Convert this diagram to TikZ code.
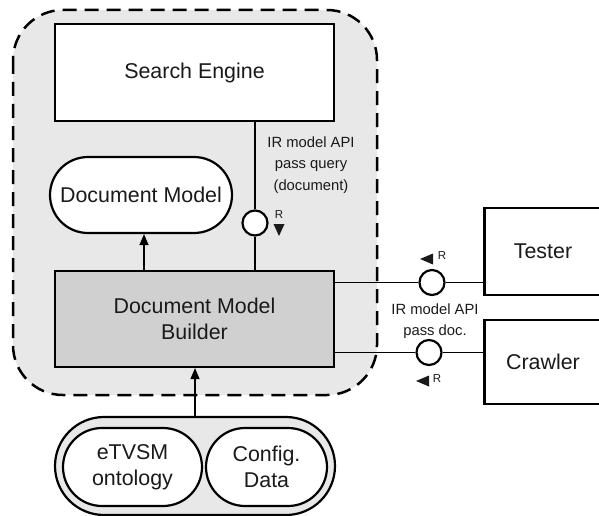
\documentclass[tikz,border=0pt]{standalone}
\usepackage{fontspec}
\setmainfont{Liberation Sans}
\usetikzlibrary{shapes.misc,arrows.meta}
\definecolor{areagray}{HTML}{E8E8E8}
\definecolor{buildergray}{HTML}{D0D0D0}
\definecolor{inkgray}{HTML}{1A1A1A}
\tikzset{
  bigtext/.style={font=\fontsize{21.4}{26}\selectfont, text=inkgray, align=center},
  smalltext/.style={font=\fontsize{14.8}{21.5}\selectfont, text=inkgray, align=center},
  rtext/.style={font=\fontsize{11.5}{13}\selectfont, text=inkgray},
  box/.style={draw, line width=2.2pt, inner sep=0pt, bigtext},
  capsule/.style={rounded rectangle, draw, line width=2.2pt, inner sep=0pt, bigtext},
  port/.style={circle, draw, line width=2.2pt, fill=white, minimum size=25pt, inner sep=0pt},
  wire/.style={line width=1.3pt},
  flow/.style={line width=1.3pt, -{Triangle[length=11pt,width=9pt]}},
  tri/.style={fill=inkgray, draw=none},
}
\begin{document}
\begin{tikzpicture}[x=1pt, y=-1pt]
\useasboundingbox (0,0) rectangle (599,516);

% component boundary
\draw[fill=areagray, line width=2.5pt, dash pattern=on 14pt off 8pt, rounded corners=50pt]
  (13,10) rectangle (377,395);

% components
\node[box, fill=white, minimum width=279pt, minimum height=97pt] (search) at (194.5,72.5) {Search Engine};
\node[capsule, fill=white, minimum width=182pt, minimum height=76pt] (docmodel) at (141,195) {Document Model};
\node[box, fill=buildergray, minimum width=279pt, minimum height=96pt] (builder) at (194.5,319) {Document Model\\Builder};
\node[box, fill=white, minimum width=117pt, minimum height=87pt] (tester) at (543,251.5) {Tester};
\node[box, fill=white, minimum width=117pt, minimum height=84pt] (crawler) at (543,362) {Crawler};

% data store group
\node[capsule, fill=areagray, minimum width=280pt, minimum height=98pt] (store) at (195,466) {};
\node[capsule, fill=white, minimum width=139pt, minimum height=78pt] (etvsm) at (132.5,467) {eTVSM\\ontology};
\node[capsule, fill=white, minimum width=121pt, minimum height=78pt] (config) at (266.5,467) {Config.\\Data};

% interface ports
\node[port] (q1) at (255,223) {};
\node[port] (q2) at (432,282.5) {};
\node[port] (q3) at (429,352.5) {};

% connectors
\draw[wire] (search.south -| q1) -- (q1) -- (builder.north -| q1);
\draw[wire] (builder.east |- q2) -- (q2) -- (tester.west |- q2);
\draw[wire] (builder.east |- q3) -- (q3) -- (crawler.west |- q3);
\coordinate (a1) at (144,0);
\draw[flow] (builder.north -| a1) -- (docmodel.south -| a1);
\draw[flow] (store.north) -- (builder.south -| store.north);

% request direction markers
\fill[tri] (273.5,224) -- (284.5,224) -- (279,236) -- cycle;
\node[rtext] (r1) at (279,215) {R};
\fill[tri] (420,259) -- (433,253.5) -- (433,264.5) -- cycle;
\node[rtext] (r2) at (442,256) {R};
\fill[tri] (416,381) -- (429,375.5) -- (429,386.5) -- cycle;
\node[rtext] (r3) at (437,379) {R};

% interface labels
\node[smalltext] (l1) at (311,165) {IR model API\\pass query\\(document)};
\node[smalltext] (l2) at (435,321) {IR model API\\pass doc.};
\end{tikzpicture}
\end{document}
